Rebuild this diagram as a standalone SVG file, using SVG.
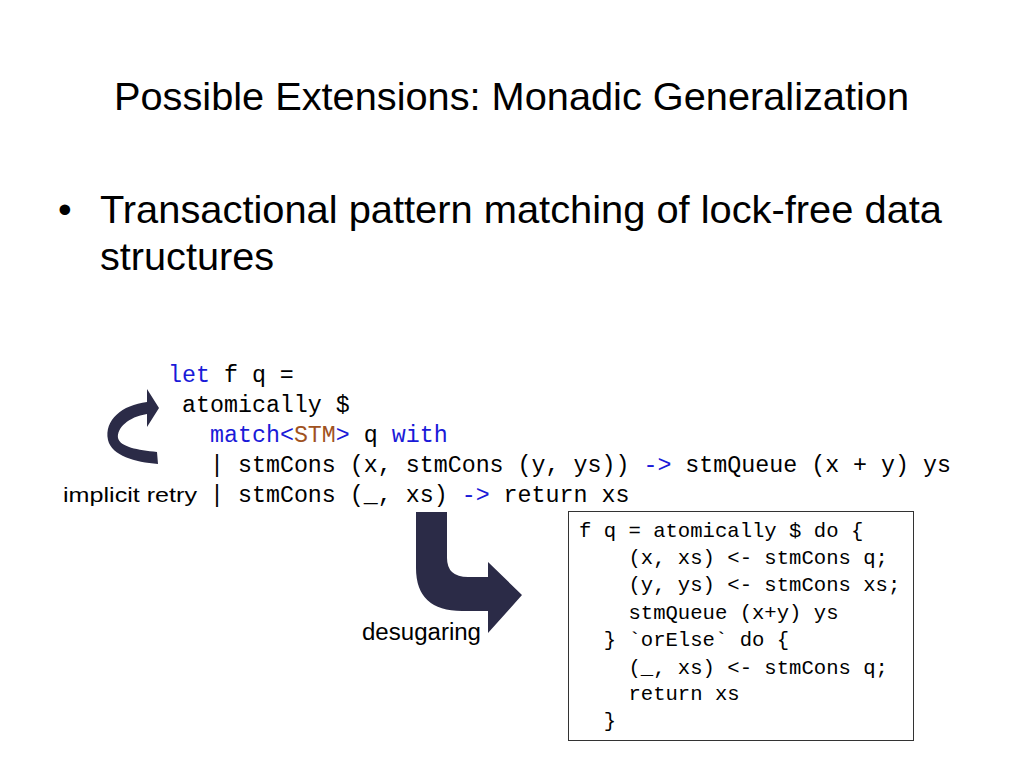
<svg xmlns="http://www.w3.org/2000/svg" width="1024" height="768" viewBox="0 0 1024 768">
<style>
.title{font-family:"Liberation Sans",Arial,sans-serif;font-size:38.5px;fill:#000}
.bullet{font-family:"Liberation Sans",Arial,sans-serif;font-size:39px;fill:#000}
.code{font-family:"Liberation Mono","DejaVu Sans Mono",monospace;font-size:23.3px;fill:#000;white-space:pre}
.box{font-family:"Liberation Mono","DejaVu Sans Mono",monospace;font-size:20.6px;fill:#000;white-space:pre}
.kw{fill:#1a1ad8}
.ty{fill:#a0521e}
.lbl{font-family:"Liberation Sans",Arial,sans-serif;fill:#000}
.arrow{fill:#2b2b47}
</style>
<rect width="1024" height="768" fill="#fff"/>
<g id="title"><text class="title" x="114" y="110" textLength="795" lengthAdjust="spacingAndGlyphs">Possible Extensions: Monadic Generalization</text></g>
<g id="bullet">
<text class="bullet" x="58" y="223">•</text>
<text class="bullet" x="100" y="223" textLength="842" lengthAdjust="spacingAndGlyphs">Transactional pattern matching of lock-free data</text>
<text class="bullet" x="100" y="270" textLength="174" lengthAdjust="spacingAndGlyphs">structures</text>
</g>
<g id="code">
<text class="code" x="168" y="382" xml:space="preserve"><tspan class="kw">let</tspan> f q =</text>
<text class="code" x="182" y="412" xml:space="preserve">atomically $</text>
<text class="code" x="210" y="442" xml:space="preserve"><tspan class="kw">match</tspan><tspan class="kw">&lt;</tspan><tspan class="ty">STM</tspan><tspan class="kw">&gt;</tspan> q <tspan class="kw">with</tspan></text>
<text class="code" x="210" y="472" xml:space="preserve">| stmCons (x, stmCons (y, ys)) <tspan class="kw">-&gt;</tspan> stmQueue (x + y) ys</text>
<text class="code" x="210" y="502" xml:space="preserve">| stmCons (_, xs) <tspan class="kw">-&gt;</tspan> return xs</text>
</g>
<g id="desugared">
<rect x="568.5" y="511.5" width="345" height="229" fill="#fff" stroke="#333" stroke-width="1"/>
<text class="box" x="579" y="537" xml:space="preserve">f q = atomically $ do {</text>
<text class="box" x="579" y="564" xml:space="preserve">    (x, xs) &lt;- stmCons q;</text>
<text class="box" x="579" y="591" xml:space="preserve">    (y, ys) &lt;- stmCons xs;</text>
<text class="box" x="579" y="619" xml:space="preserve">    stmQueue (x+y) ys</text>
<text class="box" x="579" y="646" xml:space="preserve">  } `orElse` do {</text>
<text class="box" x="579" y="674" xml:space="preserve">    (_, xs) &lt;- stmCons q;</text>
<text class="box" x="579" y="700" xml:space="preserve">    return xs</text>
<text class="box" x="579" y="727" xml:space="preserve">  }</text>
</g>
<g id="connectors">
<g id="retry-arrow">
<path class="arrow" d="M147,414 L147,427 L159,408 L147,389 L147,402 C122,405 104,420 108,440 C112,456 135,462 158,464 L157,452 C138,450 120,447 118,438 C117,428 128,417 147,414 Z"/>
<text class="lbl" x="63" y="502" font-size="21" textLength="134" lengthAdjust="spacingAndGlyphs">implicit retry</text>
</g>
<g id="desugar-arrow">
<path class="arrow" d="M416,512 L447,512 L447,558 Q447,577 468,577 L488,577 L488,562 L522,595 L488,633 L488,611 L462,611 Q416,611 416,568 Z"/>
<text class="lbl" x="362" y="640" font-size="23" textLength="119" lengthAdjust="spacingAndGlyphs">desugaring</text>
</g>
</g>
</svg>
